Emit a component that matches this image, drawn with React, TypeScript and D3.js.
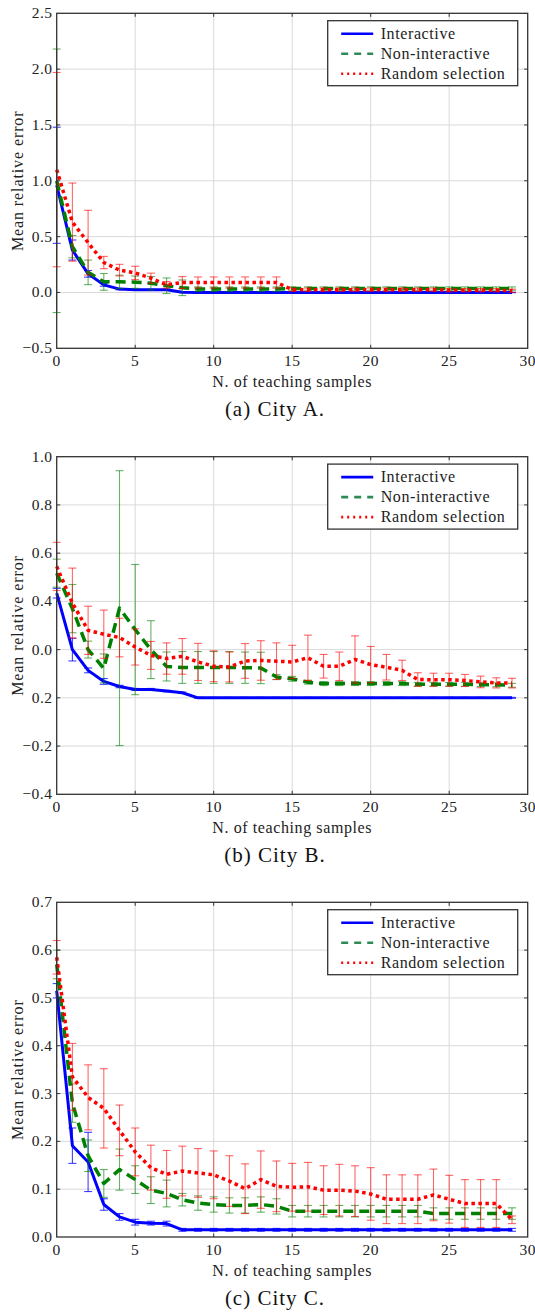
import * as d3 from "d3";
import React from "react";

// x values (number of teaching samples)
const samples = [0, 1, 2, 3, 4, 5, 6, 7, 8, 9, 10, 11, 12, 13, 14, 15, 16, 17, 18, 19, 20, 21, 22, 23, 24, 25, 26, 27, 28, 29];
const xTicks = [0, 5, 10, 15, 20, 25, 30];
const seriesNames = ["Interactive", "Non-interactive", "Random selection"];

// City A
const cityAInteractive = [0.96, 0.38, 0.167, 0.068, 0.03, 0.024, 0.024, 0.024, 0.002, 0, 0, 0, 0, 0, 0, 0, 0, 0, 0, 0, 0, 0, 0, 0, 0, 0, 0, 0, 0, 0];
const cityAInteractiveErr = [0.52, 0.09, 0.03, 0.012, 0.006, 0.004, 0.004, 0.004, 0.003, 0.002, 0.002, 0.002, 0.002, 0.002, 0.002, 0.002, 0.002, 0.002, 0.002, 0.002, 0.002, 0.002, 0.002, 0.002, 0.002, 0.002, 0.002, 0.002, 0.002, 0.002];
const cityANonInteractive = [1.0, 0.41, 0.18, 0.095, 0.095, 0.092, 0.083, 0.06, 0.042, 0.03, 0.03, 0.03, 0.03, 0.03, 0.03, 0.035, 0.035, 0.035, 0.035, 0.035, 0.035, 0.035, 0.035, 0.035, 0.035, 0.035, 0.035, 0.035, 0.035, 0.035];
const cityANonInteractiveErr = [1.18, 0.1, 0.11, 0.075, 0.06, 0.055, 0.06, 0.07, 0.07, 0.02, 0.02, 0.02, 0.02, 0.02, 0.02, 0.015, 0.015, 0.015, 0.015, 0.015, 0.015, 0.015, 0.015, 0.015, 0.015, 0.015, 0.015, 0.015, 0.015, 0.015];
const cityARandom = [1.1, 0.63, 0.446, 0.268, 0.2, 0.175, 0.128, 0.068, 0.089, 0.089, 0.089, 0.089, 0.089, 0.089, 0.089, 0.025, 0.025, 0.025, 0.025, 0.025, 0.025, 0.025, 0.025, 0.025, 0.025, 0.02, 0.02, 0.02, 0.02, 0.015];
const cityARandomErr = [0.87, 0.35, 0.29, 0.055, 0.052, 0.06, 0.045, 0.03, 0.053, 0.05, 0.05, 0.05, 0.05, 0.05, 0.05, 0.015, 0.015, 0.015, 0.015, 0.015, 0.015, 0.015, 0.015, 0.015, 0.015, 0.015, 0.015, 0.015, 0.015, 0.015];
const cityATicks = [-0.5, 0, 0.5, 1.0, 1.5, 2.0, 2.5];
const cityATickLabels = ["\u22120.5", "0.0", "0.5", "1.0", "1.5", "2.0", "2.5"];

// City B
const cityBInteractive = [0.434, 0.2, 0.114, 0.068, 0.047, 0.035, 0.035, 0.028, 0.021, 0, 0, 0, 0, 0, 0, 0, 0, 0, 0, 0, 0, 0, 0, 0, 0, 0, 0, 0, 0, 0];
const cityBInteractiveErr = [0.02, 0.047, 0.01, 0.012, 0.005, 0.004, 0.004, 0.003, 0.003, 0.002, 0.002, 0.002, 0.002, 0.002, 0.002, 0.002, 0.002, 0.002, 0.002, 0.002, 0.002, 0.002, 0.002, 0.002, 0.002, 0.002, 0.002, 0.002, 0.002, 0.002];
const cityBNonInteractive = [0.517, 0.37, 0.2, 0.122, 0.372, 0.283, 0.2, 0.13, 0.126, 0.126, 0.126, 0.126, 0.125, 0.124, 0.086, 0.079, 0.065, 0.059, 0.059, 0.059, 0.059, 0.059, 0.059, 0.056, 0.056, 0.056, 0.056, 0.055, 0.054, 0.052];
const cityBNonInteractiveErr = [0.058, 0.1, 0.035, 0.06, 0.57, 0.27, 0.12, 0.06, 0.066, 0.066, 0.066, 0.066, 0.065, 0.065, 0.01, 0.01, 0.008, 0.008, 0.008, 0.008, 0.008, 0.008, 0.008, 0.008, 0.008, 0.008, 0.008, 0.008, 0.008, 0.008];
const cityBRandom = [0.545, 0.393, 0.28, 0.264, 0.25, 0.211, 0.176, 0.163, 0.172, 0.149, 0.131, 0.128, 0.153, 0.155, 0.152, 0.149, 0.166, 0.131, 0.131, 0.159, 0.138, 0.127, 0.114, 0.076, 0.075, 0.075, 0.072, 0.066, 0.062, 0.061];
const cityBRandomErr = [0.1, 0.145, 0.1, 0.1, 0.08, 0.075, 0.058, 0.065, 0.074, 0.077, 0.064, 0.062, 0.072, 0.082, 0.076, 0.069, 0.094, 0.049, 0.059, 0.098, 0.075, 0.053, 0.042, 0.028, 0.027, 0.027, 0.025, 0.024, 0.021, 0.02];
const cityBTicks = [-0.4, -0.2, 0, 0.2, 0.4, 0.6, 0.8, 1.0];
const cityBTickLabels = ["\u22120.4", "\u22120.2", "0.2", "0.0", "0.4", "0.6", "0.8", "1.0"];

// City C
const cityCInteractive = [0.515, 0.191, 0.157, 0.068, 0.042, 0.031, 0.029, 0.028, 0.015, 0.015, 0.015, 0.015, 0.015, 0.015, 0.015, 0.015, 0.015, 0.015, 0.015, 0.015, 0.015, 0.015, 0.015, 0.015, 0.015, 0.015, 0.015, 0.015, 0.015, 0.015];
const cityCInteractiveErr = [0.015, 0.037, 0.062, 0.012, 0.007, 0.006, 0.004, 0.005, 0.003, 0.003, 0.003, 0.003, 0.003, 0.003, 0.003, 0.003, 0.003, 0.003, 0.003, 0.003, 0.003, 0.003, 0.003, 0.003, 0.003, 0.003, 0.003, 0.003, 0.003, 0.003];
const cityCNonInteractive = [0.57, 0.28, 0.17, 0.112, 0.141, 0.12, 0.098, 0.091, 0.078, 0.071, 0.068, 0.066, 0.066, 0.068, 0.064, 0.054, 0.054, 0.054, 0.054, 0.054, 0.054, 0.054, 0.054, 0.054, 0.049, 0.049, 0.049, 0.049, 0.049, 0.049];
const cityCNonInteractiveErr = [0.03, 0.04, 0.033, 0.029, 0.043, 0.029, 0.028, 0.028, 0.013, 0.015, 0.016, 0.016, 0.016, 0.016, 0.016, 0.012, 0.012, 0.012, 0.012, 0.012, 0.012, 0.012, 0.012, 0.012, 0.012, 0.012, 0.012, 0.012, 0.012, 0.012];
const cityCRandom = [0.585, 0.335, 0.292, 0.269, 0.223, 0.178, 0.145, 0.131, 0.138, 0.134, 0.13, 0.117, 0.101, 0.12, 0.106, 0.104, 0.105, 0.098, 0.098, 0.096, 0.09, 0.079, 0.079, 0.079, 0.088, 0.079, 0.07, 0.07, 0.07, 0.036];
const cityCRandomErr = [0.035, 0.07, 0.068, 0.083, 0.053, 0.05, 0.047, 0.05, 0.052, 0.051, 0.05, 0.053, 0.052, 0.06, 0.053, 0.05, 0.051, 0.051, 0.054, 0.053, 0.055, 0.051, 0.051, 0.051, 0.054, 0.05, 0.05, 0.05, 0.05, 0.008];
const cityCTicks = [0, 0.1, 0.2, 0.3, 0.4, 0.5, 0.6, 0.7];
const cityCTickLabels = ["0.0", "0.1", "0.2", "0.3", "0.4", "0.5", "0.6", "0.7"];

const FONT = "Liberation Serif, DejaVu Serif, serif";
const styles = [
  { color: "#0000ff", legend: "#0000ff", width: 3, dash: null, legendDash: null, errOpacity: 0.75 },
  { color: "#008000", legend: "#2e8b57", width: 3.5, dash: "10,6", legendDash: "7,6", errOpacity: 0.6 },
  { color: "#ff0000", legend: "#ff0000", width: 3.5, dash: "3.5,3.5", legendDash: "2,4", errOpacity: 0.6 },
];

const panels = [
  {
    caption: "(a) City A.", top: 13.3, bottom: 348.3, domain: [-0.5, 2.5], ticks: cityATicks, tickLabels: cityATickLabels,
    series: [[cityAInteractive, cityAInteractiveErr], [cityANonInteractive, cityANonInteractiveErr], [cityARandom, cityARandomErr]],
  },
  {
    caption: "(b) City B.", top: 456.7, bottom: 794.3, domain: [-0.4, 1.0], ticks: cityBTicks, tickLabels: cityBTickLabels,
    series: [[cityBInteractive, cityBInteractiveErr], [cityBNonInteractive, cityBNonInteractiveErr], [cityBRandom, cityBRandomErr]],
  },
  {
    caption: "(c) City C.", top: 902.3, bottom: 1237, domain: [0, 0.7], ticks: cityCTicks, tickLabels: cityCTickLabels,
    series: [[cityCInteractive, cityCInteractiveErr], [cityCNonInteractive, cityCNonInteractiveErr], [cityCRandom, cityCRandomErr]],
  },
];

const marginLeft = 56.7;
const marginRight = 527.7;

function Panel({ p }) {
  const x = d3.scaleLinear().domain([0, 30]).range([marginLeft, marginRight]);
  const y = d3.scaleLinear().domain(p.domain).range([p.bottom, p.top]);
  const line = d3.line().x((d, i) => x(samples[i])).y((d) => y(d));
  const lx = 327.7;
  const ly = p.top + 7.4;

  return (
    <g>
      {/* grid */}
      <g stroke="#d9d9d9" strokeWidth="1">
        {xTicks.slice(1, -1).map((t) => (
          <line key={"gx" + t} x1={x(t)} x2={x(t)} y1={p.top} y2={p.bottom} />
        ))}
        {p.ticks.slice(1, -1).map((t) => (
          <line key={"gy" + t} x1={marginLeft} x2={marginRight} y1={y(t)} y2={y(t)} />
        ))}
      </g>

      {/* series: error bars then line */}
      {p.series.map(([vals, errs], si) => {
        const s = styles[si];
        return (
          <g key={si}>
            <g stroke={s.color} strokeOpacity={s.errOpacity} strokeWidth="1.1">
              {vals.map((v, i) => {
                const cx = x(samples[i]);
                const y1 = y(v - errs[i]);
                const y2 = y(v + errs[i]);
                return (
                  <g key={i}>
                    <line x1={cx} x2={cx} y1={y1} y2={y2} />
                    <line x1={cx - 4} x2={cx + 4} y1={y1} y2={y1} />
                    <line x1={cx - 4} x2={cx + 4} y1={y2} y2={y2} />
                  </g>
                );
              })}
            </g>
            <path d={line(vals)} fill="none" stroke={s.color} strokeWidth={s.width}
              strokeDasharray={s.dash || undefined} strokeLinejoin="round" />
          </g>
        );
      })}

      {/* frame + ticks */}
      <rect x={marginLeft} y={p.top} width={marginRight - marginLeft} height={p.bottom - p.top}
        fill="none" stroke="#333" strokeWidth="1.3" />
      <g stroke="#333" strokeWidth="1">
        {xTicks.slice(1, -1).map((t) => (
          <g key={"tx" + t}>
            <line x1={x(t)} x2={x(t)} y1={p.top} y2={p.top + 3.5} />
            <line x1={x(t)} x2={x(t)} y1={p.bottom} y2={p.bottom - 3.5} />
          </g>
        ))}
        {p.ticks.slice(1, -1).map((t) => (
          <g key={"ty" + t}>
            <line x1={marginLeft} x2={marginLeft + 3.5} y1={y(t)} y2={y(t)} />
            <line x1={marginRight} x2={marginRight - 3.5} y1={y(t)} y2={y(t)} />
          </g>
        ))}
      </g>

      {/* tick labels */}
      <g style={{ fontFamily: FONT }} fontSize="15.5" fill="#222" letterSpacing="0.5">
        {xTicks.map((t) => (
          <text key={"lx" + t} x={x(t)} y={p.bottom + 18} textAnchor="middle">{t}</text>
        ))}
        {p.ticks.map((t, i) => (
          <text key={"ly" + t} x={52.5} y={y(t) + 5} textAnchor="end">{p.tickLabels[i]}</text>
        ))}
      </g>

      {/* axis labels */}
      <text x={(marginLeft + marginRight) / 2} y={p.bottom + 39} textAnchor="middle"
        style={{ fontFamily: FONT }} fontSize="16" fill="#222" letterSpacing="0.6">N. of teaching samples</text>
      <text transform={`translate(23,${(p.top + p.bottom) / 2}) rotate(-90)`} textAnchor="middle"
        style={{ fontFamily: FONT }} fontSize="16" fill="#222" letterSpacing="0.9">Mean relative error</text>
      <text x={275} y={p.bottom + 68} textAnchor="middle" style={{ fontFamily: FONT }} fontSize="21"
        fill="#111" letterSpacing="1">{p.caption}</text>

      {/* legend */}
      <rect x={lx} y={ly} width={190} height={65} fill="#fff" stroke="#333" strokeWidth="1.3" />
      {seriesNames.map((name, i) => {
        const s = styles[i];
        const ry = ly + 13 + i * 20;
        return (
          <g key={name}>
            <line x1={lx + 13.5} x2={lx + 45.5} y1={ry} y2={ry} stroke={s.legend} strokeWidth="2.6"
              strokeDasharray={s.legendDash || undefined} />
            <text x={lx + 53} y={ry + 5} style={{ fontFamily: FONT }} fontSize="16" fill="#222"
              letterSpacing="0.6">{name}</text>
          </g>
        );
      })}
    </g>
  );
}

export default function App() {
  return (
    <svg width={535} height={1313} style={{ position: "absolute", left: 0, top: 0, background: "#fff" }}>
      <rect width={535} height={1313} fill="#fff" />
      {panels.map((p) => (
        <Panel key={p.caption} p={p} />
      ))}
    </svg>
  );
}
